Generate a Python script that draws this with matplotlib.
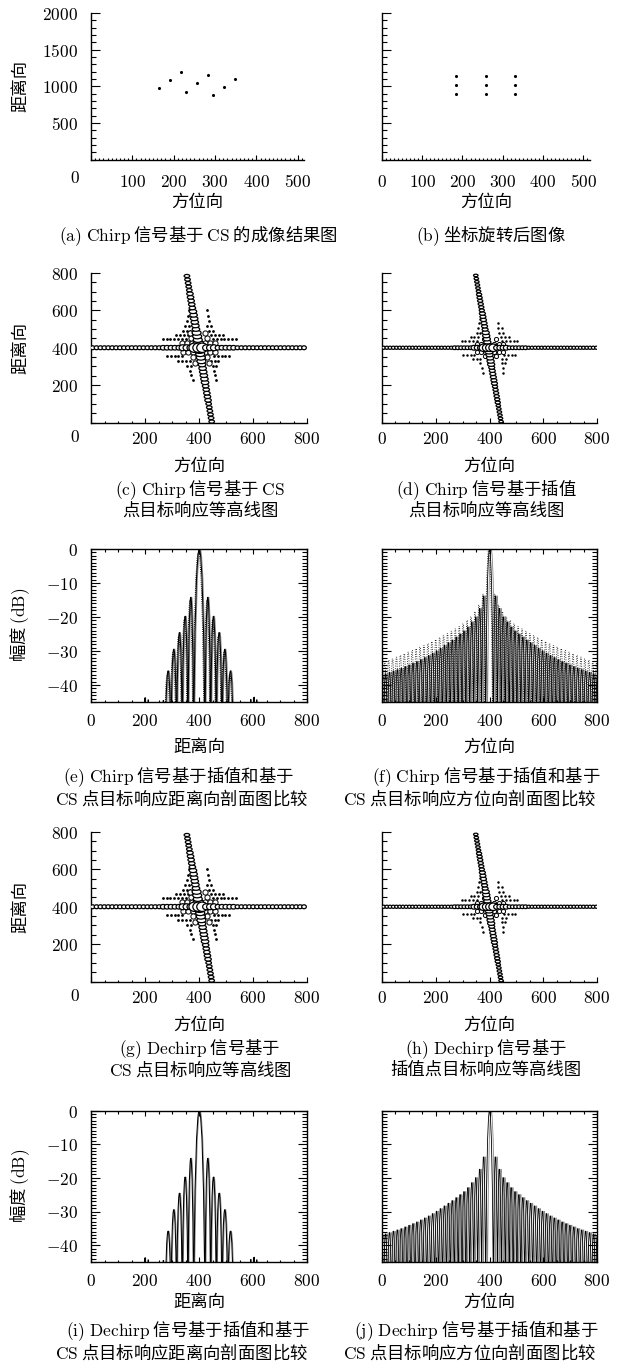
import numpy as np
import matplotlib
matplotlib.use('Agg')
import matplotlib.pyplot as plt
from matplotlib.path import Path
from matplotlib.patches import PathPatch
from matplotlib.markers import MarkerStyle
from matplotlib.transforms import Affine2D
from matplotlib.ticker import MultipleLocator

plt.rcParams['font.family'] = ['Noto Sans CJK SC', 'DejaVu Sans']
plt.rcParams['mathtext.fontset'] = 'cm'

# ---------------- data ----------------
# (a) CS 成像结果, 9 个点目标 (方位向, 距离向)
cs_azi = [164, 190, 217, 230, 257, 283, 295, 321, 348]
cs_rng = [971, 1084, 1193, 925, 1039, 1148, 876, 989, 1098]
# (b) 坐标旋转后
rot_azi = [185, 185, 185, 258, 258, 258, 330, 330, 330]
rot_rng = [1139, 1020, 898, 1139, 1020, 898, 1139, 1020, 898]

# 等高线图: 点目标中心与斜臂两端 (方位向, 距离向)
pt_center = (400, 400)
arm_cs = [(354, 795), (447, 5)]
arm_interp = [(348, 795), (443, 5)]
# 中心附近旁瓣小点, 按距离向分行: {距离向: [方位向...]}
cs_dot_rows = {
    447: [266, 280, 294, 308, 322, 336, 350, 452, 466, 480, 494, 508, 522, 536],
    468: [316, 330, 344, 358, 446, 460, 474, 488],
    492: [340, 354, 368, 436, 450],
    518: [348, 362, 430, 444],
    544: [354, 436],
    570: [358, 432],
    600: [364, 428],
    354: [282, 296, 310, 324, 338, 456, 470, 484, 498, 512],
    330: [324, 338, 352, 366, 444, 458, 472],
    304: [356, 370, 450, 464],
    278: [366, 456],
    252: [372, 460],
    226: [378, 462],
}
cs_ring_rows = {
    425: [338, 356, 374, 424, 442, 460],
    375: [340, 358, 376, 424, 442, 460],
    452: [372, 430],
    348: [378, 428],
    480: [368, 424],
    320: [386, 436],
}
ip_dot_rows = {
    438: [296, 310, 324, 338, 352, 448, 462, 476, 490, 504],
    458: [330, 344, 358, 444, 458, 472],
    480: [352, 366, 436, 450],
    504: [356, 432, 446],
    530: [362, 430],
    556: [366],
    362: [302, 316, 330, 344, 454, 468, 482, 496],
    340: [338, 352, 366, 446, 460],
    316: [366, 446, 458],
    290: [372, 450],
    264: [376, 452],
}
ip_ring_rows = {
    422: [352, 368, 384, 418, 434, 450],
    378: [352, 368, 384, 418, 434, 450],
    446: [378, 424],
    354: [382, 426],
}

# 距离向剖面: 各瓣零点位置与峰值 (dB)
rng_nulls = [275, 296, 317, 338, 359, 380, 422, 443, 464, 485, 506, 527]
rng_peak_db = [-35.8, -29.4, -24.5, -19.7, -14.1, 0, -14.1, -19.7, -24.5, -29.4, -35.8]
rng_blip_x = [200, 212, 268, 592, 604, 614]
rng_blip_db = [-43.0, -43.6, -43.8, -43.5, -42.8, -43.6]

# 方位向剖面: 旁瓣间隔与各旁瓣峰值 (dB)
az_spacing = 14.6
az_side_db = [-13.3, -17.0, -19.5, -21.0, -22.5, -23.7, -24.6, -25.5, -26.4, -27.2,
              -28.0, -28.8, -29.6, -30.3, -31.0, -31.6, -32.2, -32.8, -33.3, -33.8,
              -34.3, -34.8, -35.2, -35.6, -36.0, -36.4, -36.8]
az_side_db_dot = [-12.8, -16.0, -18.0, -19.5, -20.6, -21.6, -22.4, -23.1, -23.8, -24.5,
                  -25.1, -25.7, -26.3, -26.9, -27.5, -28.0, -28.5, -29.0, -29.5, -30.0,
                  -30.5, -31.0, -31.5, -32.0, -32.4, -32.8, -33.2]

# ---------------- figure ----------------
W, H = 627, 1369
fig = plt.figure(figsize=(W / 100, H / 100), dpi=100)
FS = 12.5


def add_ax(l, t, r, b):
    return fig.add_axes([l / W, 1 - b / H, (r - l) / W, (b - t) / H])


def ftext(x, y, s, **kw):
    kw.setdefault('ha', 'center')
    fig.text(x / W, 1 - y / H, s, va='center', fontsize=FS, **kw)


def rows_to_xy(rows):
    xs, ys = [], []
    for y, row in rows.items():
        xs += row
        ys += [y] * len(row)
    return xs, ys


def style(ax, box, xmaj, xmin, ymaj, ymin, xpad, ylabels=True, xticks=None, yticks=None,
          corner=False):
    for s in ['top', 'right']:
        ax.spines[s].set_visible(box)
    for s in ax.spines.values():
        s.set_linewidth(1.0)
    ax.xaxis.set_major_locator(MultipleLocator(xmaj))
    ax.xaxis.set_minor_locator(MultipleLocator(xmin))
    ax.yaxis.set_major_locator(MultipleLocator(ymaj))
    ax.yaxis.set_minor_locator(MultipleLocator(ymin))
    ax.tick_params(which='both', direction='in', top=box, right=box, width=0.8,
                   labelsize=FS)
    ax.xaxis.set_tick_params(which='major', length=3.8, pad=xpad)
    ax.xaxis.set_tick_params(which='minor', length=1.8)
    ax.yaxis.set_tick_params(which='major', length=6.5, pad=9.4)
    ax.yaxis.set_tick_params(which='minor', length=3.8)
    if xticks is not None:
        ax.set_xticks(xticks)
        ax.set_xticklabels(['' if (corner and v == 0) else f'${v}$' for v in xticks])
    if yticks is not None:
        ax.set_yticks(yticks)
        ax.set_yticklabels([f'${v}$' for v in yticks] if ylabels else [])


def draw_lobes(ax, nulls, peaks, color='k', ls='-', lw=0.7, shift=0.0, base=-62):
    verts, codes = [], []
    for xl, xr, pk in zip(nulls[:-1], nulls[1:], peaks):
        xl, xr = xl + shift, xr + shift
        w = xr - xl
        top = (pk - 0.25 * base) / 0.75
        verts += [(xl, base), (xl + 0.12 * w, top), (xr - 0.12 * w, top), (xr, base)]
        codes += [Path.MOVETO, Path.CURVE4, Path.CURVE4, Path.CURVE4]
    ax.add_patch(PathPatch(Path(verts, codes), fill=False, ec=color, ls=ls, lw=lw))


def draw_blips(ax, xs, dbs, color='k'):
    for x, db in zip(xs, dbs):
        draw_lobes(ax, [x - 3, x + 3], [db], color=color, lw=0.7)


def open_marks(ax, x, y, size_px, marker='o', lw=0.8, z=3):
    ax.scatter(x, y, s=(np.asarray(size_px) * 0.72) ** 2, marker=marker,
               facecolors='white', edgecolors='k', linewidths=lw, zorder=z)


def draw_cross(ax, arm, h_step, v_step, scale, dot_rows, ring_rows):
    cx, cy = pt_center
    dx, dy = rows_to_xy(dot_rows)
    ax.scatter(dx, dy, s=4.0 * scale, c='k', marker='o', linewidths=0, zorder=2)
    rx, ry = rows_to_xy(ring_rows)
    open_marks(ax, rx, ry, 5.2 * scale, lw=0.7, z=3)
    # 斜臂 (方位向)
    (tx, ty), (bx, by) = arm
    vy = np.arange(by, ty, v_step)
    vx = bx + (vy - by) * (tx - bx) / (ty - by)
    d = np.abs(vy - cy)
    size = np.select([d < 30, d < 90, d < 200, d < 300], [10.5, 9.0, 7.5, 6.5], 5.6) * scale
    ell = MarkerStyle('o', transform=Affine2D().scale(1.0, 0.55))
    open_marks(ax, vx, vy, size, marker=ell, lw=0.9, z=4)
    # 水平臂 (距离向)
    hx = np.arange(6, 800, h_step)
    d = np.abs(hx - cx)
    size = np.select([d < 25, d < 70, d < 140], [11.0, 7.0, 5.4], 4.6) * scale
    ell_h = MarkerStyle('o', transform=Affine2D().scale(1.0, 0.85))
    open_marks(ax, hx, np.full(len(hx), cy), size, marker=ell_h, lw=0.9, z=5)
    ax.set_xlim(0, 800)
    ax.set_ylim(0, 800)


xt800 = [0, 200, 400, 600, 800]
yt800 = [200, 400, 600, 800]
ytdb = [0, -10, -20, -30, -40]
cx_l = (91 + 307) / 2
cx_r = (382 + 597) / 2

# ---- row 1: (a) (b) ----
ax_a = add_ax(91, 13, 304, 159.5)
ax_a.scatter(cs_azi, cs_rng, s=5, c='k', linewidths=0)
ax_a.set_xlim(0, 515)
ax_a.set_ylim(0, 2000)
style(ax_a, False, 100, 10, 500, 100, 9.5, xticks=[0, 100, 200, 300, 400, 500],
      yticks=[500, 1000, 1500, 2000], corner=True)

ax_b = add_ax(382, 13, 590, 159.5)
ax_b.scatter(rot_azi, rot_rng, s=5, c='k', linewidths=0)
ax_b.set_xlim(0, 517)
ax_b.set_ylim(0, 2000)
style(ax_b, False, 100, 10, 500, 100, 9.5, ylabels=False,
      xticks=[0, 100, 200, 300, 400, 500], yticks=[500, 1000, 1500, 2000])

ftext(75, 178, '$0$')
ftext(20, 86, '距离向', rotation=90)
ftext(197, 202, '方位向')
ftext(486, 202, '方位向')
ftext(198, 236, r'$\mathrm{(a)\ Chirp}$ 信号基于 $\mathrm{CS}$ 的成像结果图')
ftext(491, 236, r'$\mathrm{(b)}$ 坐标旋转后图像')

# ---- row 2: (c) (d) ----
ax_c = add_ax(91, 273, 307, 422.5)
draw_cross(ax_c, arm_cs, 14.5, 19, 1.0, cs_dot_rows, cs_ring_rows)
style(ax_c, False, 200, 50, 200, 50, 5.5, xticks=xt800, yticks=yt800, corner=True)
ax_d = add_ax(382, 273, 597, 422.5)
draw_cross(ax_d, arm_interp, 12, 17, 0.8, ip_dot_rows, ip_ring_rows)
style(ax_d, False, 200, 50, 200, 50, 5.5, ylabels=False, xticks=xt800, yticks=yt800)

ftext(75, 437, '$0$')
ftext(20, 348, '距离向', rotation=90)
ftext(cx_l, 466, '方位向')
ftext(cx_r, 466, '方位向')
ftext(200, 490, r'$\mathrm{(c)\ Chirp}$ 信号基于 $\mathrm{CS}$')
ftext(200, 511, '点目标响应等高线图')
ftext(486, 490, r'$\mathrm{(d)\ Chirp}$ 信号基于插值')
ftext(486, 511, '点目标响应等高线图')

# ---- row 3: (e) (f) ----
ax_e = add_ax(91, 549, 307, 702)
draw_lobes(ax_e, rng_nulls, rng_peak_db, color='#8a8a8a', lw=0.8, shift=3)
draw_lobes(ax_e, rng_nulls, [p - 1.0 for p in rng_peak_db], ls=(0, (1, 1.2)), lw=0.7, shift=-3)
draw_lobes(ax_e, rng_nulls, rng_peak_db, lw=0.75)
draw_blips(ax_e, rng_blip_x, rng_blip_db)
ax_e.set_xlim(0, 800)
ax_e.set_ylim(-45, 0)
style(ax_e, True, 200, 50, 10, 1, 7.5, xticks=xt800, yticks=ytdb)

az_nulls = [400 + az_spacing * k for k in range(-28, 0)] + \
           [400 + az_spacing * k for k in range(1, 29)]
az_peaks = az_side_db[::-1] + [0] + az_side_db
az_peaks_dot = az_side_db_dot[::-1] + [0] + az_side_db_dot

ax_f = add_ax(382, 549, 597, 702)
draw_lobes(ax_f, az_nulls, az_peaks, color='#8a8a8a', lw=0.6, shift=6.5)
draw_lobes(ax_f, az_nulls, az_peaks_dot, ls=(0, (1, 1.8)), lw=0.6, shift=-3)
draw_lobes(ax_f, az_nulls, az_peaks, lw=0.6)
ax_f.set_xlim(0, 800)
ax_f.set_ylim(-45, 0)
style(ax_f, True, 200, 50, 10, 1, 7.5, ylabels=False, xticks=xt800, yticks=ytdb)

ftext(20, 625, r'幅度 $\mathrm{(dB)}$', rotation=90)
ftext(cx_l, 747, '距离向')
ftext(cx_r, 747, '方位向')
ftext(178, 777, r'$\mathrm{(e)\ Chirp}$ 信号基于插值和基于')
ftext(182, 798, r'$\mathrm{CS}$ 点目标响应距离向剖面图比较')
ftext(486, 777, r'$\mathrm{(f)\ Chirp}$ 信号基于插值和基于')
ftext(470, 798, r'$\mathrm{CS}$ 点目标响应方位向剖面图比较')

# ---- row 4: (g) (h) ----
R4 = 559
ax_g = add_ax(91, 273 + R4, 307, 422.5 + R4)
draw_cross(ax_g, arm_cs, 14.5, 19, 1.0, cs_dot_rows, cs_ring_rows)
style(ax_g, False, 200, 50, 200, 50, 5.5, xticks=xt800, yticks=yt800, corner=True)
ax_h = add_ax(382, 273 + R4, 597, 422.5 + R4)
draw_cross(ax_h, arm_interp, 12, 17, 0.8, ip_dot_rows, ip_ring_rows)
style(ax_h, False, 200, 50, 200, 50, 5.5, ylabels=False, xticks=xt800, yticks=yt800)

ftext(75, 437 + R4, '$0$')
ftext(20, 348 + R4, '距离向', rotation=90)
ftext(cx_l, 466 + R4, '方位向')
ftext(cx_r, 466 + R4, '方位向')
ftext(200, 490 + R4, r'$\mathrm{(g)\ Dechirp}$ 信号基于')
ftext(200, 511 + R4, r'$\mathrm{CS}$ 点目标响应等高线图')
ftext(486, 490 + R4, r'$\mathrm{(h)\ Dechirp}$ 信号基于')
ftext(486, 511 + R4, '插值点目标响应等高线图')

# ---- row 5: (i) (j) ----
ax_i = add_ax(91, 1110.5, 307, 1262)
draw_lobes(ax_i, rng_nulls, rng_peak_db, color='#8a8a8a', lw=0.8, shift=2.5)
draw_lobes(ax_i, rng_nulls, rng_peak_db, lw=0.75)
draw_blips(ax_i, rng_blip_x, rng_blip_db)
ax_i.set_xlim(0, 800)
ax_i.set_ylim(-45, 0)
style(ax_i, True, 200, 50, 10, 1, 7, xticks=xt800, yticks=ytdb)

ax_j = add_ax(382, 1110.5, 597, 1262)
draw_lobes(ax_j, az_nulls, az_peaks, color='#8a8a8a', lw=0.6, shift=6.5)
draw_lobes(ax_j, az_nulls, az_peaks, lw=0.6)
ax_j.set_xlim(0, 800)
ax_j.set_ylim(-45, 0)
style(ax_j, True, 200, 50, 10, 1, 7, ylabels=False, xticks=xt800, yticks=ytdb)

ftext(20, 1186, r'幅度 $\mathrm{(dB)}$', rotation=90)
ftext(cx_l, 1302, '距离向')
ftext(cx_r, 1302, '方位向')
ftext(188, 1331, r'$\mathrm{(i)\ Dechirp}$ 信号基于插值和基于')
ftext(182, 1352, r'$\mathrm{CS}$ 点目标响应距离向剖面图比较')
ftext(476, 1331, r'$\mathrm{(j)\ Dechirp}$ 信号基于插值和基于')
ftext(470, 1352, r'$\mathrm{CS}$ 点目标响应方位向剖面图比较')

fig.savefig('out.png', dpi=100)
